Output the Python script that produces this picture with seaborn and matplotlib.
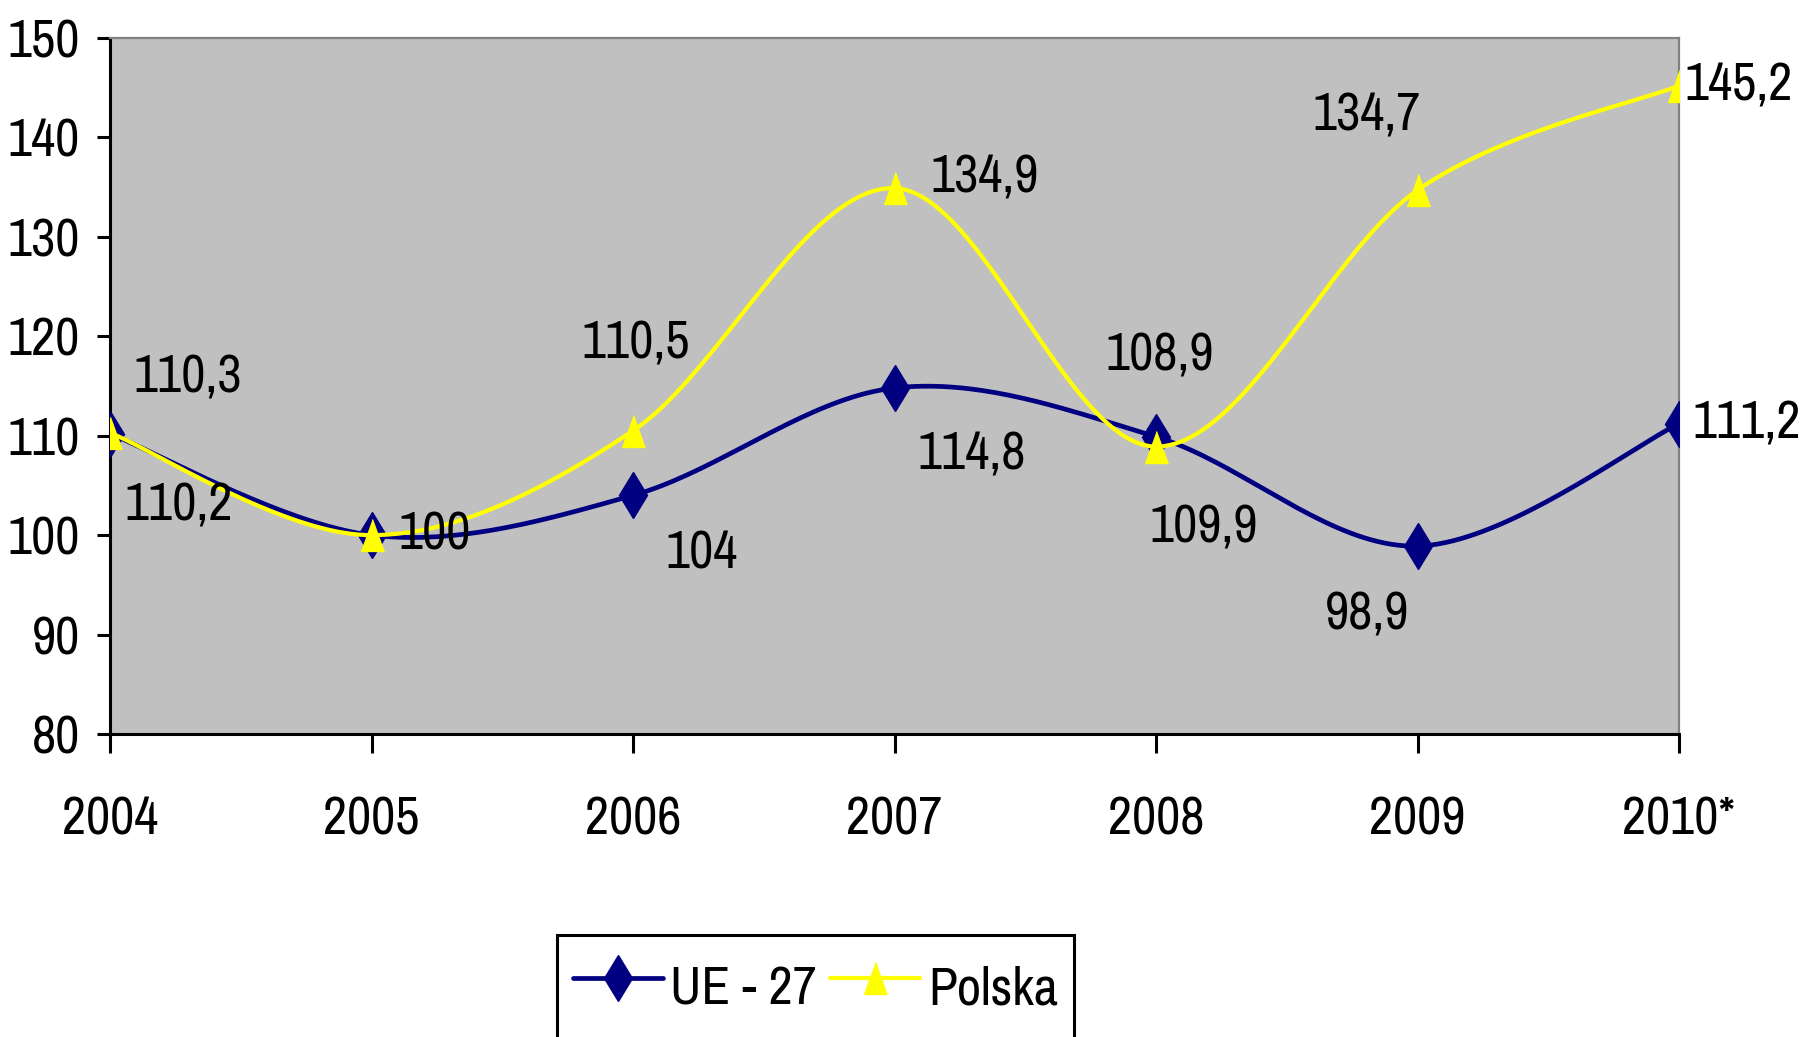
import numpy as np
import matplotlib
matplotlib.use("Agg")
import matplotlib.pyplot as plt
import seaborn as sns
from matplotlib.lines import Line2D

# ==================================
# DATA
# ==================================
years = ["2004", "2005", "2006", "2007", "2008", "2009", "2010*"]
ue27 = [110.2, 100, 104, 114.8, 109.9, 98.9, 111.2]
polska = [110.3, 100, 110.5, 134.9, 108.9, 134.7, 145.2]
ue_labels = ["110,2", "", "104", "114,8", "109,9", "98,9", "111,2"]
pl_labels = ["110,3", "100", "110,5", "134,9", "108,9", "134,7", "145,2"]

# label offsets in pixels (dx, dy), dy positive = up
ue_off = [(69, -72), (0, 0), (69, -58), (77, -67), (48, -91), (-50, -68), (68, 0)]
pl_off = [(78, 55), (63, 1), (3, 87), (90, 11), (4, 91), (-51, 75), (60, 0)]

NAVY = "#000080"
YELLOW = "#FFFF00"
FS = 38

# ==================================
# SMOOTH CURVE (excel style bezier)
# ==================================
def smooth(y, n=40):
  x = np.arange(len(y), dtype=float)
  y = np.asarray(y, dtype=float)
  xs, ys = [], []
  for i in range(len(y) - 1):
    i0 = max(i - 1, 0)
    i3 = min(i + 2, len(y) - 1)
    p0 = np.array([x[i], y[i]])
    p3 = np.array([x[i + 1], y[i + 1]])
    p1 = p0 + (p3 - np.array([x[i0], y[i0]])) / 6
    p2 = p3 - (np.array([x[i3], y[i3]]) - p0) / 6
    t = np.linspace(0, 1, n)[:, None]
    pts = ((1 - t) ** 3) * p0 + 3 * ((1 - t) ** 2) * t * p1 + 3 * (1 - t) * t ** 2 * p2 + t ** 3 * p3
    xs.extend(pts[:, 0])
    ys.extend(pts[:, 1])
  return np.array(xs), np.array(ys)

# ==================================
# PLOT
# ==================================
sns.set_style("white")
plt.rcParams["font.family"] = ["Archivo Narrow", "Liberation Sans", "DejaVu Sans"]
plt.rcParams["text.color"] = "black"
plt.rcParams["xtick.color"] = "black"
plt.rcParams["ytick.color"] = "black"

fig = plt.figure(figsize=(18.03, 10.37), dpi=100)
ax = fig.add_axes([110 / 1803, 1 - 734 / 1037, (1679 - 110) / 1803, (734 - 38) / 1037])
ax.set_facecolor("#C0C0C0")

tri = [(-0.36, -0.5), (0.36, -0.5), (0, 0.5)]
xpos = np.arange(len(years))

ux, uy = smooth(ue27)
px, py = smooth(polska)
sns.lineplot(x=ux, y=uy, sort=False, color=NAVY, linewidth=3.4, ax=ax, zorder=3)
ax.plot(xpos, ue27, linestyle="none", marker="d", markersize=23, color=NAVY, zorder=4)
sns.lineplot(x=px, y=py, sort=False, color=YELLOW, linewidth=3.0, ax=ax, zorder=5)
ax.plot(xpos, polska, linestyle="none", marker=tri, markersize=23, color=YELLOW, zorder=6)

# data labels
for i in range(len(years)):
  if ue_labels[i]:
    ax.annotate(ue_labels[i], (xpos[i], ue27[i]), xytext=ue_off[i], textcoords="offset pixels",
                ha="center", va="center", fontsize=FS, annotation_clip=False, zorder=7)
  if pl_labels[i]:
    ax.annotate(pl_labels[i], (xpos[i], polska[i]), xytext=pl_off[i], textcoords="offset pixels",
                ha="center", va="center", fontsize=FS, annotation_clip=False, zorder=7)

ax.set_xlim(0, len(years) - 1)
ax.set_ylim(80, 150)
ax.set_xticks(xpos)
ax.set_xticklabels(years)
ax.set_yticks(range(80, 151, 10))
ax.tick_params(axis="y", direction="out", length=9.5, width=2.2, labelsize=FS, pad=12, left=True)
ax.tick_params(axis="x", direction="out", length=14, width=2.2, labelsize=FS, pad=30, bottom=True)
ax.set_xlabel("")
ax.set_ylabel("")

for s in ["left", "bottom"]:
  ax.spines[s].set_color("black")
  ax.spines[s].set_linewidth(2.2)
for s in ["top", "right"]:
  ax.spines[s].set_color("#808080")
  ax.spines[s].set_linewidth(1.6)

handles = [
  Line2D([], [], color=NAVY, linewidth=3.4, marker="d", markersize=23),
  Line2D([], [], color=YELLOW, linewidth=3.0, marker=tri, markersize=23),
]
leg = fig.legend(handles, ["UE - 27", "Polska"], loc="upper left",
                 bbox_to_anchor=(557 / 1803, 1 - 935 / 1037), ncol=2, fontsize=FS,
                 frameon=True, fancybox=False, edgecolor="black", framealpha=1,
                 handlelength=1.7, handleheight=1.75, handletextpad=0.15, columnspacing=0.25,
                 borderpad=0.3, borderaxespad=0)
leg.get_frame().set_linewidth(2.2)

fig.savefig("out.png", dpi=100)
